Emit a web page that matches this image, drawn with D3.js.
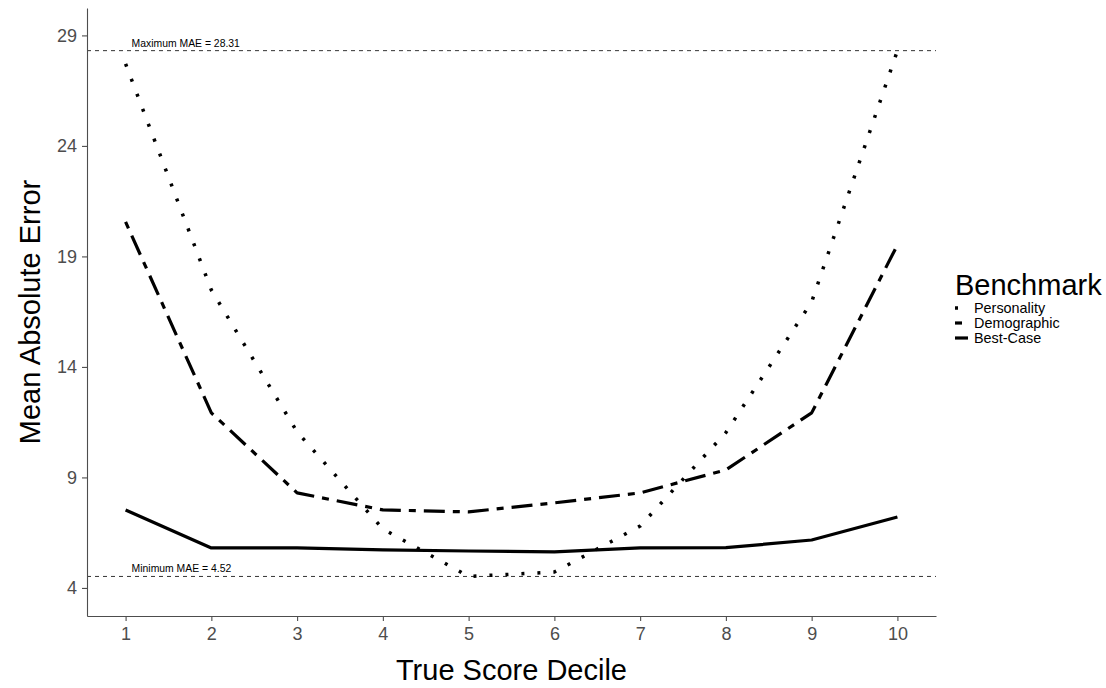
<!DOCTYPE html>
<html>
<head>
<meta charset="utf-8">
<script src="https://cdn.jsdelivr.net/npm/d3@7"></script>
<style>
  body { margin: 0; background: #fff; }
  text { font-family: "Liberation Sans", Arial, sans-serif; }
</style>
</head>
<body>
<div id="graph"></div>
<script>

/// Data

var deciles = [1, 2, 3, 4, 5, 6, 7, 8, 9, 10];
var personality = [27.71, 17.48, 11.06, 6.67, 4.52, 4.72, 6.80, 11.03, 16.94, 28.31];
var demographic = [20.56, 11.92, 8.30, 7.53, 7.44, 7.85, 8.30, 9.34, 11.92, 19.52];
var bestCase = [7.53, 5.81, 5.81, 5.72, 5.67, 5.63, 5.81, 5.82, 6.17, 7.21];
var yTicks = [4, 9, 14, 19, 24, 29];
var seriesNames = ["Personality", "Demographic", "Best-Case"];
var maxMAE = 28.31;
var minMAE = 4.52;

// dash patterns for each series (ggplot dotted / twodash / solid)
var dashes = ["3,13", "7,8,21,8", null];

//Geometry
var width = 1106;
var height = 688;
var plot = { left: 87, right: 936, top: 8, bottom: 616 };

var xScale = d3.scaleLinear()
  .domain([0.55, 10.45])
  .range([plot.left, plot.right]);
var yScale = d3.scaleLinear()
  .domain([2.73, 30.24])
  .range([plot.bottom, plot.top]);

var svg = d3.select("#graph")
  .append("svg")
  .attr("width", width)
  .attr("height", height);

// reference lines for min / max MAE
[maxMAE, minMAE].forEach(function (v, i) {
  svg.append("line")
    .attr("x1", plot.left)
    .attr("x2", plot.right)
    .attr("y1", yScale(v))
    .attr("y2", yScale(v))
    .attr("stroke", "#333")
    .attr("stroke-width", 1)
    .attr("stroke-dasharray", "4,4");
  svg.append("text")
    .attr("x", xScale(1.07))
    .attr("y", yScale(v) - 4)
    .attr("font-size", "10.4px")
    .attr("fill", "#000")
    .text((i == 0 ? "Maximum" : "Minimum") + " MAE = " + v.toFixed(2));
});

// axes
var xAxis = svg.append("g").attr("class", "x axis")
  .attr("transform", "translate(0," + plot.bottom + ")")
  .call(d3.axisBottom(xScale).tickValues(deciles).tickSize(5).tickSizeOuter(0).tickPadding(6));
var yAxis = svg.append("g").attr("class", "y axis")
  .attr("transform", "translate(" + plot.left + ",0)")
  .call(d3.axisLeft(yScale).tickValues(yTicks).tickSize(5).tickSizeOuter(0).tickPadding(5));

svg.selectAll(".axis .domain").attr("stroke", "#4d4d4d").attr("stroke-width", 1.1);
svg.selectAll(".axis .tick line").attr("stroke", "#4d4d4d").attr("stroke-width", 1.1);
svg.selectAll(".axis text")
  .attr("fill", "#4d4d4d")
  .attr("font-size", "18px")
  .style("font-family", "'Liberation Sans', Arial, sans-serif");

// axis titles
svg.append("text")
  .attr("x", (plot.left + plot.right) / 2)
  .attr("y", 680)
  .style("text-anchor", "middle")
  .attr("font-size", "29px")
  .text("True Score Decile");

svg.append("text")
  .attr("transform", "translate(40," + ((plot.top + plot.bottom) / 2) + "),rotate(-90)")
  .style("text-anchor", "middle")
  .attr("font-size", "29px")
  .text("Mean Absolute Error");

// lines
var series = [personality, demographic, bestCase];
var line = d3.line()
  .x(function (d, i) { return xScale(deciles[i]); })
  .y(function (d) { return yScale(d); });

series.forEach(function (s, k) {
  svg.append("path")
    .datum(s)
    .attr("fill", "none")
    .attr("stroke", "#000")
    .attr("stroke-width", k == 0 ? 3.5 : 3.2)
    .attr("stroke-linejoin", "round")
    .attr("stroke-dasharray", dashes[k])
    .attr("d", line);
});

// legend
var legend = svg.append("g").attr("transform", "translate(955,0)");
legend.append("text")
  .attr("x", 0)
  .attr("y", 295)
  .attr("font-size", "29px")
  .text("Benchmark");

seriesNames.forEach(function (name, k) {
  var yy = 313 + k * 15;
  legend.append("line")
    .attr("x1", 0)
    .attr("x2", 13)
    .attr("y1", yy - 5)
    .attr("y2", yy - 5)
    .attr("stroke", "#000")
    .attr("stroke-width", k == 0 ? 3.5 : 3.2)
    .attr("stroke-dasharray", dashes[k]);
  legend.append("text")
    .attr("x", 19)
    .attr("y", yy)
    .attr("font-size", "14.4px")
    .text(name);
});

</script>
</body>
</html>
